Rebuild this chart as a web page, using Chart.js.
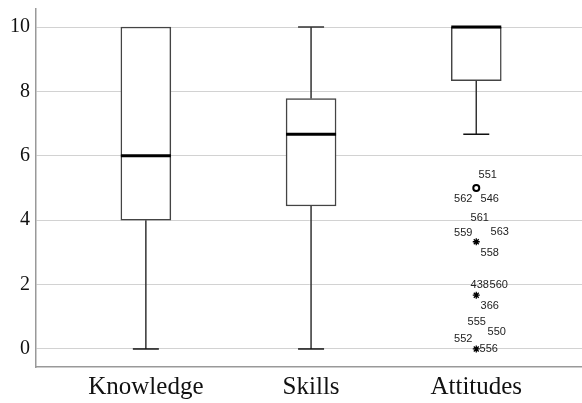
<!DOCTYPE html>
<html>
<head>
<meta charset="utf-8">
<script src="https://cdn.jsdelivr.net/npm/chart.js@4"></script>
<style>
  body { margin: 0; background: #fff; }
  #wrap { width: 582px; height: 403px; }
</style>
</head>
<body>
<div id="wrap"><canvas id="BoxChart"></canvas></div>
<script>
// categories and five-number summaries
const categories = ["Knowledge", "Skills", "Attitudes"];
const mins    = [0, 0, 6.67];
const q1s     = [4, 4.44, 8.33];
const medians = [6, 6.67, 10];
const q3s     = [10, 7.78, 10];
const maxs    = [10, 10, 10];
const yTicks  = [0, 2, 4, 6, 8, 10];

// outliers (all on Attitudes)
const outlierGroup  = [3, 3, 3, 3];
const outlierValues = [5, 3.33, 1.67, 0];
const outlierType   = ["outlier", "extreme", "extreme", "extreme"];
const outlierCases  = [
    ["551", "562", "546"],
    ["561", "559", "563", "558"],
    ["438", "560", "366"],
    ["555", "550", "552", "556"]
];

// where each case number sits around its marker (pixels)
const caseOffsets = [
    [[11.5, -13], [-13, 11], [13.5, 11]],
    [[3.5, -24], [-13, -9], [23.5, -10], [13.5, 11]],
    [[3.5, -10], [22.5, -10], [13.5, 11]],
    [[0.5, -27], [20.5, -17], [-13, -10], [12.5, 0]]
];

const boxWidth = 50, capWidth = 26;

var boxData = [];
for (let i = 0; i < categories.length; i++) {
    boxData.push({ x: i + 1, y: [q1s[i], q3s[i]] });
}
var circlePts = [], starPts = [];
for (let i = 0; i < outlierValues.length; i++) {
    var p = { x: outlierGroup[i], y: outlierValues[i] };
    if (outlierType[i] == "outlier") circlePts.push(p); else starPts.push(p);
}

// whiskers, medians and case labels
const boxExtras = {
    id: "boxExtras",
    afterDatasetsDraw(chart) {
        const ctx = chart.ctx, xs = chart.scales.x, ys = chart.scales.y;
        ctx.save();
        for (let i = 0; i < categories.length; i++) {
            var cx = xs.getPixelForValue(i + 1);
            ctx.strokeStyle = "#333";
            ctx.lineWidth = 1.5;
            // upper whisker
            if (maxs[i] > q3s[i]) {
                ctx.beginPath();
                ctx.moveTo(cx, ys.getPixelForValue(q3s[i]));
                ctx.lineTo(cx, ys.getPixelForValue(maxs[i]));
                ctx.moveTo(cx - capWidth / 2, ys.getPixelForValue(maxs[i]));
                ctx.lineTo(cx + capWidth / 2, ys.getPixelForValue(maxs[i]));
                ctx.stroke();
            }
            // lower whisker
            if (mins[i] < q1s[i]) {
                ctx.beginPath();
                ctx.moveTo(cx, ys.getPixelForValue(q1s[i]));
                ctx.lineTo(cx, ys.getPixelForValue(mins[i]));
                ctx.stroke();
                ctx.strokeStyle = "#111";
                ctx.beginPath();
                ctx.moveTo(cx - capWidth / 2, ys.getPixelForValue(mins[i]));
                ctx.lineTo(cx + capWidth / 2, ys.getPixelForValue(mins[i]));
                ctx.stroke();
            }
            // median
            ctx.strokeStyle = "#000";
            ctx.lineWidth = 3;
            ctx.beginPath();
            ctx.moveTo(cx - boxWidth / 2, ys.getPixelForValue(medians[i]));
            ctx.lineTo(cx + boxWidth / 2, ys.getPixelForValue(medians[i]));
            ctx.stroke();
        }
        // case numbers
        ctx.font = "11px 'Liberation Sans', Arial, sans-serif";
        ctx.fillStyle = "#222";
        ctx.textAlign = "center";
        ctx.textBaseline = "middle";
        for (let i = 0; i < outlierValues.length; i++) {
            var px = xs.getPixelForValue(outlierGroup[i]);
            var py = ys.getPixelForValue(outlierValues[i]);
            for (let k = 0; k < outlierCases[i].length; k++) {
                ctx.fillText(outlierCases[i][k], px + caseOffsets[i][k][0], py + caseOffsets[i][k][1]);
            }
        }
        ctx.restore();
    }
};

var serif = "'Liberation Serif', 'Times New Roman', serif";

var config = {
    type: "bar",
    data: {
        datasets: [{
            label: "Box",
            data: boxData,
            backgroundColor: "#fff",
            borderColor: "#444",
            borderWidth: 1.5,
            borderSkipped: false,
            barThickness: boxWidth,
            grouped: false,
            order: 2
        }, {
            type: "scatter",
            label: "Outliers",
            data: circlePts,
            pointStyle: "circle",
            pointRadius: 3,
            borderColor: "#000",
            backgroundColor: "rgba(0,0,0,0)",
            borderWidth: 2,
            order: 1
        }, {
            type: "scatter",
            label: "Extremes",
            data: starPts,
            pointStyle: "star",
            pointRadius: 3.5,
            borderColor: "#000",
            borderWidth: 1.3,
            order: 1
        }]
    },
    options: {
        responsive: true,
        maintainAspectRatio: false,
        animation: false,
        layout: { autoPadding: false, padding: { top: 9, left: 0, right: 0, bottom: 0 } },
        plugins: { legend: { display: false }, tooltip: { enabled: false } },
        scales: {
            x: {
                type: "linear",
                offset: false,
                min: 0.335,
                max: 3.64,
                afterBuildTicks: function(scale) {
                    scale.ticks = categories.map((c, i) => ({ value: i + 1 }));
                },
                afterFit: function(scale) {
                    scale.height = 36;
                    scale.paddingLeft = 0;
                    scale.paddingRight = 0;
                },
                ticks: {
                    callback: function(v) { return categories[v - 1]; },
                    font: { family: serif, size: 25 },
                    color: "#111",
                    padding: 5,
                    maxRotation: 0,
                    autoSkip: false
                },
                grid: { display: false, drawTicks: false, offset: false },
                border: { display: true, color: "#999", width: 1.5 }
            },
            y: {
                min: -0.56,
                max: 10.56,
                afterBuildTicks: function(scale) {
                    scale.ticks = yTicks.map(v => ({ value: v }));
                },
                afterFit: function(scale) {
                    scale.width = 36;
                    scale.paddingTop = 0;
                    scale.paddingBottom = 0;
                },
                ticks: {
                    font: { family: serif, size: 20 },
                    color: "#111",
                    padding: 6
                },
                grid: { color: "#d2d2d2", lineWidth: 1, drawTicks: false },
                border: { display: true, color: "#999", width: 1.5 }
            }
        }
    },
    plugins: [boxExtras]
};

var boxChart = new Chart(document.getElementById("BoxChart"), config);
</script>
</body>
</html>
